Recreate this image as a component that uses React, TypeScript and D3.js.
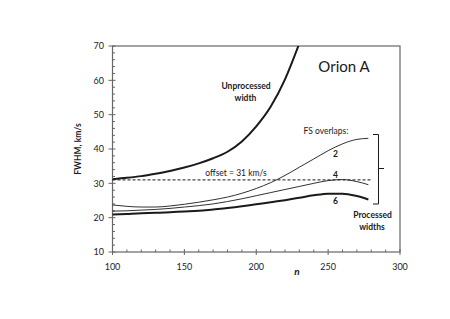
import React from "react";
import * as d3 from "d3";

const nUnproc = [100, 110, 120, 130, 140, 150, 160, 170, 180, 190, 200, 210, 220, 230];
const vUnproc = [31.2, 31.6, 32.1, 32.8, 33.6, 34.6, 35.8, 37.3, 39.2, 42.2, 46.6, 52.3, 60.3, 70.8];

const nProc = [100, 110, 120, 130, 140, 150, 160, 170, 180, 190, 200, 210, 220, 230, 240, 250, 260, 270, 278];
const vFS2 = [23.7, 23.3, 23.1, 23.1, 23.4, 23.9, 24.5, 25.2, 26.0, 27.1, 28.5, 30.2, 32.3, 34.7, 37.1, 39.5, 41.5, 42.8, 43.1];
const vFS4 = [21.9, 22.0, 22.2, 22.4, 22.7, 23.1, 23.5, 24.0, 24.7, 25.5, 26.4, 27.3, 28.2, 29.1, 30.0, 30.8, 31.1, 30.5, 29.6];
const vFS6 = [20.9, 21.1, 21.3, 21.4, 21.6, 21.8, 22.0, 22.4, 22.8, 23.3, 23.9, 24.5, 25.1, 25.8, 26.5, 27.0, 27.0, 26.3, 25.3];

const offsetValue = 31;
const offsetEndN = 280;
const xTicks = [100, 150, 200, 250, 300];
const yTicks = [10, 20, 30, 40, 50, 60, 70];

export default function App() {
  const W = 450, H = 319;
  const x = d3.scaleLinear().domain([100, 300]).range([112.5, 400]);
  const y = d3.scaleLinear().domain([10, 70]).range([252, 46]);
  const line = d3.line<[number, number]>().x(d => x(d[0])).y(d => y(d[1])).curve(d3.curveMonotoneX);
  const toPts = (ns: number[], vs: number[]) => ns.map((n, i) => [n, vs[i]] as [number, number]);

  const xMinor = d3.range(100, 301, 10).filter(v => v % 50 !== 0);
  const yMinor = d3.range(10, 71, 2).filter(v => v % 10 !== 0);
  const font = "Lato, 'Liberation Sans', sans-serif";
  const axisColor = "#666";
  const ink = "#1a1a1a";

  return (
    <svg width={W} height={H} style={{ position: "absolute", left: 0, top: 0, background: "#fff" }} fontFamily={font}>
      <defs>
        <clipPath id="plotclip">
          <rect x={x(100)} y={y(70)} width={x(300) - x(100)} height={y(10) - y(70)} />
        </clipPath>
      </defs>
      <rect x={x(100)} y={y(70)} width={x(300) - x(100)} height={y(10) - y(70)} fill="none" stroke={axisColor} strokeWidth={1.2} />
      {xTicks.map(t => (
        <g key={"xt" + t}>
          <line x1={x(t)} x2={x(t)} y1={y(10) - 3} y2={y(10) + 3} stroke={axisColor} strokeWidth={1} />
          <text x={x(t)} y={270} textAnchor="middle" fontSize={9} fill="#222">{t}</text>
        </g>
      ))}
      {xMinor.map(t => (
        <line key={"xm" + t} x1={x(t)} x2={x(t)} y1={y(10) - 2.5} y2={y(10)} stroke={axisColor} strokeWidth={1} />
      ))}
      {yTicks.map(t => (
        <g key={"yt" + t}>
          <line x1={x(100) - 4} x2={x(100) + 3} y1={y(t)} y2={y(t)} stroke={axisColor} strokeWidth={1} />
          <text x={104} y={y(t) + 3.2} textAnchor="end" fontSize={9} fill="#222">{t}</text>
        </g>
      ))}
      {yMinor.map(t => (
        <line key={"ym" + t} x1={x(100)} x2={x(100) + 2.5} y1={y(t)} y2={y(t)} stroke={axisColor} strokeWidth={1} />
      ))}
      <text transform={`translate(81,${(y(10) + y(70)) / 2}) rotate(-90)`} textAnchor="middle" fontSize={8.5} fontWeight="bold" fill={ink}>FWHM, km/s</text>
      <text x={297} y={275} textAnchor="middle" fontSize={10} fontWeight="bold" fontStyle="italic" fill={ink}>n</text>

      <line x1={x(100)} x2={x(offsetEndN)} y1={y(offsetValue)} y2={y(offsetValue)} stroke={ink} strokeWidth={1} strokeDasharray="3,2" />
      <text x={236} y={y(offsetValue) - 3.5} textAnchor="middle" fontSize={8.5} fill={ink}>offset = 31 km/s</text>

      <g clipPath="url(#plotclip)">
        <path d={line(toPts(nUnproc, vUnproc)) || ""} fill="none" stroke={ink} strokeWidth={2} />
      </g>
      <path d={line(toPts(nProc, vFS2)) || ""} fill="none" stroke={ink} strokeWidth={0.9} />
      <path d={line(toPts(nProc, vFS4)) || ""} fill="none" stroke={ink} strokeWidth={0.9} />
      <path d={line(toPts(nProc, vFS6)) || ""} fill="none" stroke={ink} strokeWidth={2} />

      <text x={344} y={72} textAnchor="middle" fontSize={15} fill={ink}>Orion A</text>
      <text x={246} y={88.5} textAnchor="middle" fontSize={8.5} fontWeight="bold" fill={ink}>Unprocessed</text>
      <text x={245.5} y={100.5} textAnchor="middle" fontSize={8.5} fontWeight="bold" fill={ink}>width</text>
      <text x={326} y={134} textAnchor="middle" fontSize={8.5} fill={ink}>FS overlaps:</text>
      <text x={335.5} y={156.5} textAnchor="middle" fontSize={8.5} fontWeight="bold" fill={ink}>2</text>
      <text x={335.5} y={177.5} textAnchor="middle" fontSize={8.5} fontWeight="bold" fill={ink}>4</text>
      <text x={335.5} y={204} textAnchor="middle" fontSize={8.5} fontWeight="bold" fill={ink}>6</text>
      <text x={372.5} y={217.5} textAnchor="middle" fontSize={8.5} fontWeight="bold" fill={ink}>Processed</text>
      <text x={372} y={230} textAnchor="middle" fontSize={8.5} fontWeight="bold" fill={ink}>widths</text>

      <path d="M373,134.5 H378.5 V204 H373 M378.5,168.5 H384" fill="none" stroke={ink} strokeWidth={1} />
    </svg>
  );
}
